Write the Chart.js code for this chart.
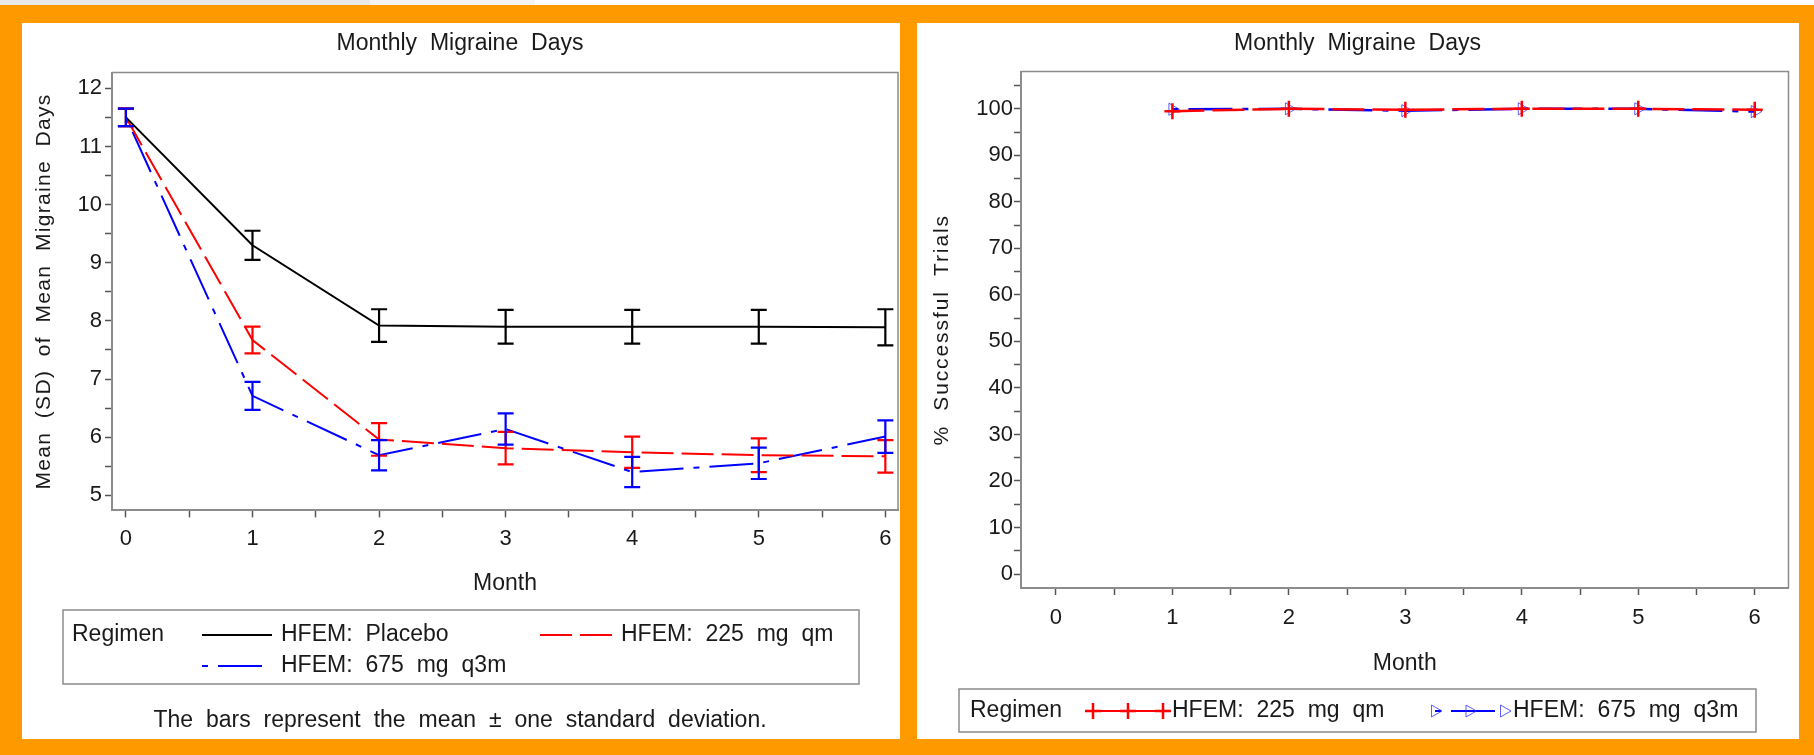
<!DOCTYPE html>
<html>
<head>
<meta charset="utf-8">
<title>Monthly Migraine Days</title>
<script src="https://cdn.jsdelivr.net/npm/chart.js@4.4.1/dist/chart.umd.min.js"></script>
<style>
  html, body { margin: 0; padding: 0; }
  body { width: 1814px; height: 755px; background: #ff9900; position: relative; overflow: hidden; }
  .strip { position: absolute; left: 0; top: 0; width: 1814px; height: 5px;
    background: linear-gradient(to right, #e9e9e9 0, #e9e9e9 370px, #f4f4f4 370px, #f4f4f4 535px, #fff 535px); }
  .panel { position: absolute; background: #fff; }
  #leftPanel { left: 22px; top: 23px; width: 878px; height: 716px; }
  #rightPanel { left: 917px; top: 23px; width: 882px; height: 716px; }
</style>
</head>
<body>
<div class="strip"></div>
<div class="panel" id="leftPanel"><canvas id="left" width="878" height="716"></canvas></div>
<div class="panel" id="rightPanel"><canvas id="right" width="882" height="716"></canvas></div>
<script>
// data
const months = [0, 1, 2, 3, 4, 5, 6];
const placeboMean = [11.5, 9.30, 7.92, 7.90, 7.90, 7.90, 7.89];
const placeboSD   = [0.15, 0.25, 0.28, 0.29, 0.29, 0.29, 0.31];
const q1mMean = [11.5, 7.67, 5.96, 5.81, 5.74, 5.69, 5.67];
const q1mSD   = [0.15, 0.23, 0.28, 0.28, 0.27, 0.29, 0.28];
const q3mMean = [11.5, 6.71, 5.69, 6.14, 5.40, 5.55, 6.01];
const q3mSD   = [0.15, 0.24, 0.26, 0.27, 0.26, 0.27, 0.28];

const trialMonths = [1, 2, 3, 4, 5, 6];
const q1mSuccess = [99.5, 100, 99.8, 100, 100, 99.8];
const q3mSuccess = [99.9, 100, 99.6, 100, 100, 99.4];

const FONT = "'Liberation Sans', Arial, sans-serif";
const TEXT = '#1a1a1a';
Chart.defaults.font.family = FONT;
Chart.defaults.color = TEXT;

const RED_DASH = [32, 8];
const BLUE_DASH = [6, 10, 44, 10];

function pts(xs, ys) {
  return xs.map((x, i) => ({ x: x, y: ys[i] }));
}

// SAS output has wide gaps between words, and a spaced out y title
const spacing = {
  id: 'spacing',
  beforeLayout(chart) { chart.ctx.wordSpacing = '6.5px'; },
  beforeDraw(chart, args, o) {
    chart.ctx.wordSpacing = '6.5px';
    const s = chart.scales.y;
    if (s._spaced) return;
    const orig = s.drawTitle;
    s.drawTitle = function () {
      this.ctx.letterSpacing = o.titleLetters;
      orig.call(this);
      this.ctx.letterSpacing = '0px';
    };
    s._spaced = true;
  }
};

// mean +/- sd whiskers
const errorBars = {
  id: 'errorBars',
  afterDatasetsDraw(chart) {
    const { ctx, scales: { x, y } } = chart;
    chart.data.datasets.forEach(ds => {
      if (!ds.sd) return;
      ctx.save();
      ctx.strokeStyle = ds.borderColor;
      ctx.lineWidth = 2.2;
      ds.data.forEach((p, j) => {
        const px = x.getPixelForValue(p.x);
        const top = y.getPixelForValue(p.y + ds.sd[j]);
        const bot = y.getPixelForValue(p.y - ds.sd[j]);
        ctx.beginPath();
        ctx.moveTo(px, top); ctx.lineTo(px, bot);
        ctx.moveTo(px - 8, top); ctx.lineTo(px + 8, top);
        ctx.moveTo(px - 8, bot); ctx.lineTo(px + 8, bot);
        ctx.stroke();
      });
      ctx.restore();
    });
  }
};

// top and right sides of the plot frame
const frame = {
  id: 'frame',
  beforeDatasetsDraw(chart) {
    const { ctx, chartArea: a } = chart;
    ctx.save();
    ctx.strokeStyle = '#8c8c8c';
    ctx.lineWidth = 1.5;
    ctx.beginPath();
    ctx.moveTo(a.left, a.top); ctx.lineTo(a.right, a.top); ctx.lineTo(a.right, a.bottom);
    ctx.stroke();
    ctx.restore();
  }
};

function marker(ctx, style, x, y, r) {
  ctx.beginPath();
  if (style === 'cross') {
    ctx.moveTo(x - r, y); ctx.lineTo(x + r, y);
    ctx.moveTo(x, y - r); ctx.lineTo(x, y + r);
  } else if (style === 'triangle') {
    ctx.moveTo(x + r, y);
    ctx.lineTo(x - r * 0.5, y - r * 0.85);
    ctx.lineTo(x - r * 0.5, y + r * 0.85);
    ctx.closePath();
  }
  ctx.stroke();
}

// boxed SAS-style legend
const boxLegend = {
  id: 'boxLegend',
  afterDraw(chart, args, o) {
    const ctx = chart.ctx;
    ctx.save();
    ctx.strokeStyle = '#8c8c8c';
    ctx.lineWidth = 1.5;
    ctx.strokeRect(o.box[0], o.box[1], o.box[2], o.box[3]);
    ctx.font = '23px ' + FONT;
    ctx.fillStyle = TEXT;
    ctx.textBaseline = 'middle';
    ctx.fillText(o.title, o.titleX, o.items[0].y);
    o.items.forEach(it => {
      const ds = chart.data.datasets[it.dataset];
      ctx.strokeStyle = ds.borderColor;
      ctx.lineWidth = 2;
      ctx.setLineDash(ds.legendDash || ds.borderDash || []);
      ctx.beginPath();
      ctx.moveTo(it.x0, it.y); ctx.lineTo(it.x1, it.y);
      ctx.stroke();
      ctx.setLineDash([]);
      if (ds.pointRadius > 0) {
        ctx.strokeStyle = ds.pointBorderColor;
        ctx.lineWidth = ds.pointBorderWidth;
        [it.x0, (it.x0 + it.x1) / 2, it.x1].forEach(mx => marker(ctx, ds.pointStyle, mx, it.y, ds.pointRadius));
      }
      ctx.fillStyle = TEXT;
      ctx.fillText(ds.label, it.x1 + 9, it.y);
    });
    ctx.restore();
  }
};

function xAxis(min, max, height, pad) {
  return {
    type: 'linear', min: min, max: max,
    ticks: { stepSize: 0.5, includeBounds: false, autoSkip: false, maxRotation: 0,
      callback: v => Number.isInteger(v) ? v : '', font: { size: 22 }, padding: pad, color: TEXT },
    grid: { drawOnChartArea: false, tickLength: 7, tickColor: '#555', tickWidth: 1.5 },
    border: { color: '#8c8c8c', width: 2 },
    title: { display: true, text: 'Month', font: { size: 23 }, padding: 0, color: TEXT },
    afterFit: s => { s.height = height; }
  };
}

function yAxis(min, max, step, label, text, width, titlePad, pad) {
  return {
    type: 'linear', min: min, max: max,
    ticks: { stepSize: step, includeBounds: false, autoSkip: false,
      callback: v => (v % label === 0) ? v : '', font: { size: 22 }, padding: pad, color: TEXT },
    grid: { drawOnChartArea: false, tickLength: 7, tickColor: '#555', tickWidth: 1.5 },
    border: { color: '#8c8c8c', width: 2 },
    title: { display: true, text: text, font: { size: 21 }, padding: { top: titlePad, bottom: 0 }, color: TEXT },
    afterFit: s => { s.width = width; }
  };
}

new Chart(document.getElementById('left'), {
  type: 'line',
  data: {
    datasets: [
      { label: 'HFEM: Placebo', data: pts(months, placeboMean), sd: placeboSD,
        borderColor: '#000000', borderWidth: 2, pointRadius: 0, tension: 0 },
      { label: 'HFEM: 225 mg qm', data: pts(months, q1mMean), sd: q1mSD,
        borderColor: '#ff0000', borderWidth: 2, borderDash: RED_DASH, pointRadius: 0, tension: 0 },
      { label: 'HFEM: 675 mg q3m', data: pts(months, q3mMean), sd: q3mSD,
        borderColor: '#0000ff', borderWidth: 2, borderDash: BLUE_DASH, pointRadius: 0, tension: 0 }
    ]
  },
  options: {
    responsive: false,
    animation: false,
    layout: { padding: { left: 0, right: 2, top: 0, bottom: 0 } },
    plugins: {
      legend: { display: false },
      tooltip: { enabled: false },
      spacing: { titleLetters: '1.3px' },
      title: { display: true, text: 'Monthly Migraine Days', font: { size: 23, weight: 'normal' },
        padding: { top: 7, bottom: 15 }, color: TEXT },
      subtitle: { display: true, position: 'bottom', text: 'The bars represent the mean \u00b1 one standard deviation.',
        font: { size: 23 }, padding: { top: 109, bottom: 5 }, color: TEXT },
      boxLegend: {
        box: [41, 587, 796, 74], title: 'Regimen', titleX: 50,
        items: [
          { dataset: 0, x0: 180, x1: 250, y: 612 },
          { dataset: 1, x0: 518, x1: 590, y: 612 },
          { dataset: 2, x0: 180, x1: 250, y: 643 }
        ]
      }
    },
    scales: {
      x: xAxis(-0.11, 6.1, 87, 8),
      y: yAxis(4.74, 12.27, 0.5, 1, 'Mean (SD) of Mean Migraine Days', 90, 10, 3)
    }
  },
  plugins: [spacing, errorBars, frame, boxLegend]
});

new Chart(document.getElementById('right'), {
  type: 'line',
  data: {
    datasets: [
      { label: 'HFEM: 225 mg qm', data: pts(trialMonths, q1mSuccess),
        borderColor: '#ff0000', borderWidth: 2.5, borderDash: RED_DASH, legendDash: [],
        pointStyle: 'cross', pointRadius: 8, pointBorderWidth: 2.5, pointBorderColor: '#ff0000', tension: 0 },
      { label: 'HFEM: 675 mg q3m', data: pts(trialMonths, q3mSuccess),
        borderColor: '#0000ff', borderWidth: 2.5, borderDash: BLUE_DASH,
        pointStyle: 'triangle', rotation: 90, pointRadius: 7, pointBorderWidth: 1,
        pointBorderColor: 'rgba(40,40,255,0.75)', pointBackgroundColor: 'rgba(0,0,0,0)', tension: 0 }
    ]
  },
  options: {
    responsive: false,
    animation: false,
    layout: { padding: { left: 0, right: 1, top: 0, bottom: 62 } },
    plugins: {
      legend: { display: false },
      tooltip: { enabled: false },
      spacing: { titleLetters: '1.9px' },
      title: { display: true, text: 'Monthly Migraine Days', font: { size: 23, weight: 'normal' },
        padding: { top: 7, bottom: 14 }, color: TEXT },
      boxLegend: {
        box: [42, 666, 797, 43], title: 'Regimen', titleX: 53,
        items: [
          { dataset: 0, x0: 176, x1: 246, y: 688 },
          { dataset: 1, x0: 518, x1: 587, y: 688 }
        ]
      }
    },
    scales: {
      x: xAxis(-0.3, 6.29, 89, 10),
      y: yAxis(-3, 108, 5, 10, '% Successful Trials', 104, 13, 1)
    }
  },
  plugins: [spacing, frame, boxLegend]
});
</script>
</body>
</html>
